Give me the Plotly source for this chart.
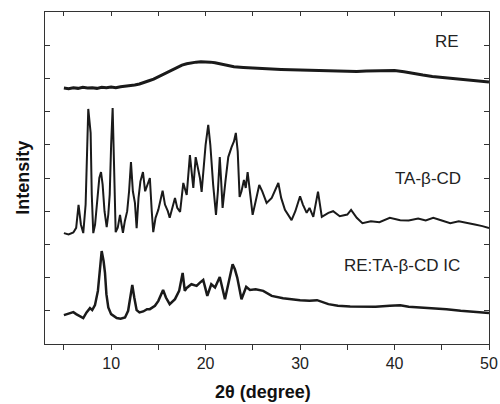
import plotly.graph_objects as go

# RE (top trace)
re_x = [5.0, 5.5, 6, 6.5, 7, 7.5, 8, 8.5, 9, 9.5, 10, 10.5, 11, 11.5, 12, 12.5, 13, 13.5, 14, 14.5,
        15, 15.5, 16, 16.5, 17, 17.5, 18, 18.5, 19, 19.5, 20, 20.5, 21, 21.5, 22, 22.5, 23, 24, 25,
        26, 27, 28, 29, 30, 31, 32, 33, 34, 35, 36, 37, 38, 39, 40, 41, 42, 43, 44, 45, 46, 47, 48, 49, 50]
re_y = [7.71, 7.69, 7.72, 7.70, 7.73, 7.71, 7.72, 7.70, 7.73, 7.72, 7.74, 7.72, 7.75, 7.76, 7.78, 7.80,
        7.83, 7.87, 7.93, 7.98, 8.05, 8.12, 8.20, 8.26, 8.33, 8.40, 8.44, 8.47, 8.49, 8.50, 8.50, 8.49,
        8.47, 8.44, 8.41, 8.38, 8.35, 8.33, 8.31, 8.29, 8.28, 8.27, 8.26, 8.25, 8.24, 8.23, 8.22, 8.21,
        8.20, 8.21, 8.22, 8.23, 8.25, 8.24, 8.20, 8.14, 8.10, 8.06, 8.03, 8.00, 7.97, 7.94, 7.91, 7.89]

# TA-beta-CD (middle trace)
ta_x = [5.0, 5.5, 6.0, 6.3, 6.55, 6.8, 7.05, 7.3, 7.58, 7.83, 7.95, 8.11, 8.3, 8.57, 8.75, 8.93, 9.1,
        9.3, 9.53, 9.7, 9.85, 10.0, 10.16, 10.3, 10.48, 10.7, 10.94, 11.1, 11.25, 11.45, 11.7, 11.9,
        12.1, 12.3, 12.52, 12.7, 12.9, 13.1, 13.37, 13.6, 13.9, 14.1, 14.3, 14.46, 14.7, 14.99, 15.2,
        15.45, 15.7, 16.0, 16.2, 16.5, 16.76, 17.0, 17.3, 17.64, 18.0, 18.34, 18.55, 18.7, 18.95, 19.2,
        19.4, 19.58, 19.8, 20.0, 20.28, 20.5, 20.8, 21.1, 21.3, 21.5, 21.65, 21.8, 22.1, 22.4, 22.75,
        23.0, 23.2, 23.4, 23.6, 23.8, 24.06, 24.25, 24.45, 24.7, 24.98, 25.3, 25.68, 26.0, 26.46, 27.0,
        27.7, 28.0, 28.4, 29.1, 29.5, 30.0, 30.3, 30.7, 31.0, 31.4, 31.9, 32.3, 33.0, 33.5, 34.2, 35.0,
        35.4, 36.0, 36.6, 37.5, 38.4, 39.5, 40.6, 41.5, 42.5, 43.3, 44.1, 45.0, 45.9, 46.8, 47.6, 48.5,
        49.3, 50.0]
ta_y = [3.34, 3.30, 3.36, 3.50, 4.19, 3.60, 3.34, 4.20, 7.08, 6.36, 4.50, 3.34, 3.60, 4.49, 5.00, 5.18,
        4.80, 4.00, 3.52, 3.90, 4.50, 6.00, 7.11, 5.50, 3.37, 3.50, 3.89, 3.60, 3.35, 3.70, 4.00, 4.60,
        5.48, 4.60, 4.25, 3.49, 4.40, 4.90, 5.18, 4.60, 4.85, 5.00, 4.00, 3.37, 3.80, 4.04, 4.30, 4.62,
        4.20, 4.00, 3.80, 4.10, 4.40, 4.10, 3.98, 4.85, 4.49, 5.69, 5.20, 4.70, 5.63, 5.30, 5.00, 4.58,
        5.40, 6.00, 6.60, 6.00, 4.80, 3.89, 4.60, 5.63, 4.90, 4.10, 4.90, 5.63, 5.93, 6.10, 6.36, 5.80,
        4.43, 4.60, 4.94, 4.70, 5.18, 4.50, 3.89, 4.30, 4.79, 4.60, 4.25, 4.40, 4.85, 4.40, 4.04, 3.73,
        4.00, 4.45, 4.20, 3.95, 4.10, 3.83, 4.59, 3.83, 3.95, 4.00, 3.85, 3.90, 4.04, 3.80, 3.64, 3.70,
        3.67, 3.80, 3.73, 3.72, 3.78, 3.72, 3.80, 3.72, 3.64, 3.70, 3.66, 3.60, 3.55, 3.49]

# RE:TA-beta-CD IC (bottom trace)
ic_x = [5.0, 5.5, 6.0, 6.3, 6.6, 7.05, 7.4, 7.76, 8.0, 8.29, 8.6, 8.8, 9.0, 9.2, 9.35, 9.5, 9.7, 10.0,
        10.59, 11.0, 11.47, 11.8, 12.05, 12.24, 12.45, 12.7, 13.0, 13.4, 13.8, 14.1, 14.64, 15.0, 15.5,
        15.8, 16.2, 16.76, 17.2, 17.57, 17.8, 18.0, 18.5, 19.05, 19.4, 19.75, 20.18, 20.6, 21.0, 21.5,
        22.05, 22.5, 22.86, 23.1, 23.35, 23.8, 24.3, 24.7, 25.3, 26.1, 27.0, 28.2, 29.0, 30.0, 31.0,
        31.8, 33.0, 34.0, 35.3, 36.5, 38.0, 39.5, 40.6, 41.5, 42.8, 44.1, 45.5, 47.0, 48.5, 50.0]
ic_y = [0.87, 0.92, 0.96, 0.90, 0.85, 0.78, 0.95, 1.08, 1.02, 1.17, 1.60, 2.30, 2.80, 2.50, 2.14, 1.50,
        1.10, 0.90, 0.78, 0.76, 0.80, 1.00, 1.50, 1.78, 1.40, 1.02, 0.95, 0.98, 1.05, 1.05, 1.15, 1.30,
        1.63, 1.40, 1.20, 1.35, 1.60, 2.14, 1.60, 1.69, 1.80, 1.75, 1.85, 1.93, 1.45, 1.80, 1.70, 2.02,
        1.35, 1.90, 2.40, 2.25, 2.00, 1.35, 1.72, 1.63, 1.65, 1.60, 1.45, 1.38, 1.35, 1.32, 1.30, 1.32,
        1.20, 1.15, 1.13, 1.12, 1.12, 1.15, 1.17, 1.12, 1.10, 1.08, 1.05, 1.00, 0.96, 0.93]

labels = ["RE", "TA-β-CD", "RE:TA-β-CD IC"]
label_x = [45.6, 43.5, 40.8]
label_y = [9.1, 5.0, 2.35]

x_tickvals = [5, 10, 15, 20, 25, 30, 35, 40, 45, 50]
x_ticktext = ["", "10", "", "20", "", "30", "", "40", "", "50"]

FONT = "Liberation Sans, Arial, sans-serif"
LINE = "#1a1a1a"

fig = go.Figure()
for (xs, ys), w in zip([(re_x, re_y), (ta_x, ta_y), (ic_x, ic_y)], [3, 2, 2.5]):
    fig.add_trace(go.Scatter(x=xs, y=ys, mode="lines",
                             line=dict(color=LINE, width=w), showlegend=False,
                             hoverinfo="skip"))
# invisible trace for the top (inside-tick) axis
fig.add_trace(go.Scatter(x=[5, 50], y=[0, 0], xaxis="x2", mode="lines",
                         line=dict(width=0), showlegend=False, hoverinfo="skip"))

for t, lx, ly in zip(labels, label_x, label_y):
    fig.add_annotation(x=lx, y=ly, text=t, showarrow=False,
                       font=dict(family=FONT, size=17, color="#222"))

# axis titles
fig.add_annotation(xref="paper", yref="paper", x=0.491, y=-0.145, xanchor="center",
                   yanchor="middle", text="<b>2θ (degree)</b>",
                   showarrow=False, font=dict(family=FONT, size=18, color="#111"))
fig.add_annotation(xref="paper", yref="paper", x=-0.05, y=0.5, xanchor="center",
                   yanchor="middle", text="<b>Intensity</b>",
                   textangle=-90, showarrow=False, font=dict(family=FONT, size=18, color="#111"))

fig.update_layout(
    width=500, height=404,
    margin=dict(l=45, r=11, t=12, b=60, autoexpand=False),
    paper_bgcolor="white", plot_bgcolor="white",
    font=dict(family=FONT, size=16, color="#222"),
    xaxis=dict(range=[3, 50], tickvals=x_tickvals, ticktext=x_ticktext, automargin=False,
               ticks="outside", ticklen=5, tickcolor="#333", showline=True,
               linecolor="#333", linewidth=1, mirror=True, showgrid=False,
               zeroline=False, tickfont=dict(size=16, color="#222")),
    xaxis2=dict(range=[3, 50], overlaying="x", side="top", tickvals=x_tickvals,
                ticks="inside", ticklen=4, tickcolor="#333", showticklabels=False,
                showline=False, showgrid=False, zeroline=False, automargin=False),
    yaxis=dict(range=[0, 10], dtick=1, tick0=0, ticks="inside", ticklen=5,
               tickcolor="#333", showticklabels=False, showline=True, automargin=False,
               linecolor="#333", linewidth=1, mirror="ticks", showgrid=False,
               zeroline=False),
)

fig.write_html("out.html")
